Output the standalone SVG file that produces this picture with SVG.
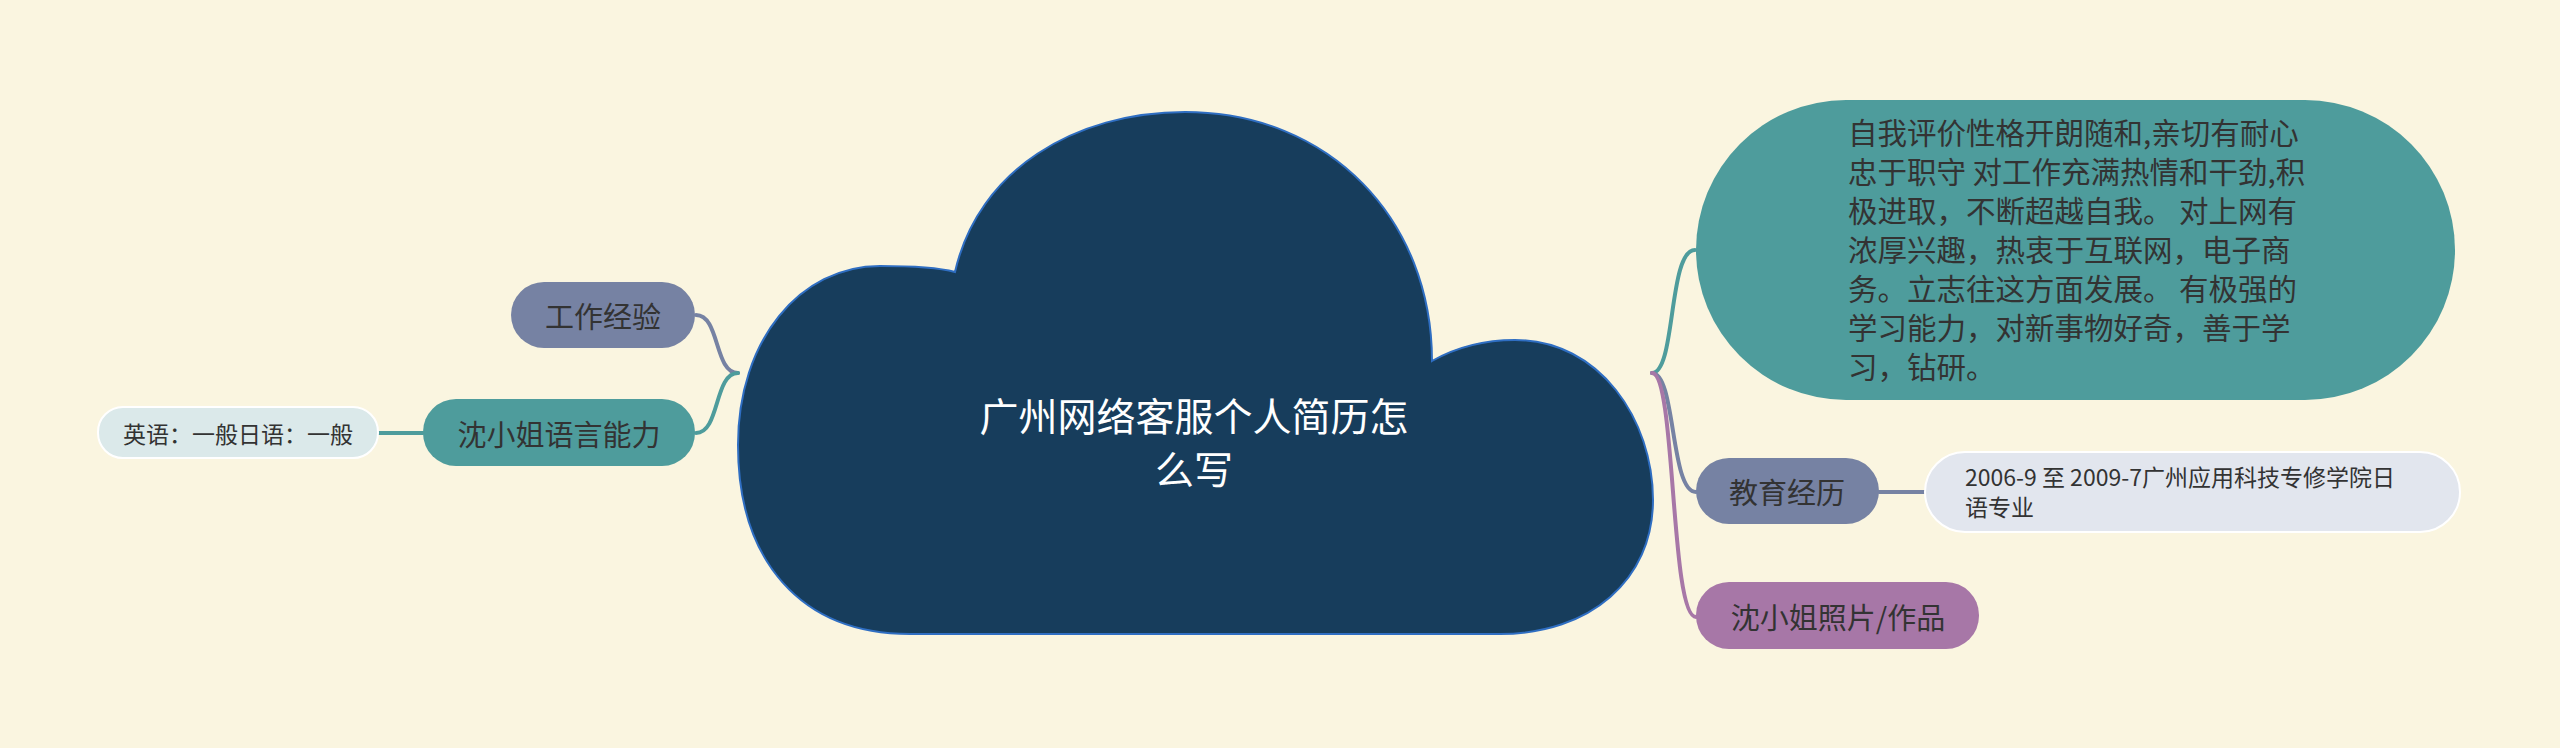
<svg xmlns="http://www.w3.org/2000/svg" width="2560" height="748" viewBox="0 0 2560 748">
<style>
.t{font-family:"Noto Sans CJK SC","Noto Sans",sans-serif;fill:#333333;}
.n29{font-size:29px;text-anchor:middle;dominant-baseline:central;}
.c{fill:none;stroke-linecap:round;}
</style>
<rect x="0" y="0" width="2560" height="748" fill="#faf5e0"/>
<g id="connectors">
<path class="c" d="M696 315 C720 315 714 373 738 373" stroke="#7682a3" stroke-width="4"/>
<path class="c" d="M696 433 C720 433 714 373 738 373" stroke="#4e9c9c" stroke-width="4"/>
<path class="c" d="M378 433 L423 433" stroke="#4e9c9c" stroke-width="4"/>
<path class="c" d="M1652 373 C1676 373 1668 250 1695 250" stroke="#4e9c9c" stroke-width="4"/>
<path class="c" d="M1652 373 C1676 373 1670 492 1696 492" stroke="#7682a3" stroke-width="4"/>
<path class="c" d="M1652 373 C1676 373 1670 617 1696 617" stroke="#a777a7" stroke-width="4"/>
<path class="c" d="M1879 492 L1925 492" stroke="#7682a3" stroke-width="4"/>
</g>
<g id="root">
<path d="M910 634 C800 634 738 560 738 445 C738 340 800 266 880 266 C920 266 940 268 955 272 C978 170 1075 112 1185 112 C1330 112 1432 220 1432 361 C1455 348 1480 340 1515 340 C1600 340 1653 420 1653 500 C1653 580 1590 634 1500 634 Z" fill="#173d5c" stroke="#2f6ec2" stroke-width="2"/>
<text class="t" font-size="39" style="fill:#ffffff" text-anchor="middle"><tspan x="1194" y="431">广州网络客服个人简历怎</tspan><tspan x="1194" y="484">么写</tspan></text>
</g>
<g id="n-work">
<rect x="511" y="282" width="184" height="66" rx="33" fill="#7682a3"/>
<text class="t n29" x="603" y="315">工作经验</text>
</g>
<g id="n-lang">
<rect x="423" y="399" width="272" height="67" rx="33" fill="#4e9c9c"/>
<text class="t n29" x="559" y="433">沈小姐语言能力</text>
</g>
<g id="n-lang-sub">
<rect x="98" y="407" width="280" height="51" rx="25" fill="#dbe9ea" stroke="#ffffff" stroke-width="2"/>
<text class="t" font-size="23" x="238" y="433" text-anchor="middle" dominant-baseline="central">英语：一般日语：一般</text>
</g>
<g id="n-self">
<rect x="1696" y="100" width="759" height="300" rx="150" fill="#4e9c9c"/>
<text class="t" font-size="29.5"><tspan x="1848" y="144">自我评价性格开朗随和,亲切有耐心</tspan><tspan x="1848" y="183">忠于职守 对工作充满热情和干劲,积</tspan><tspan x="1848" y="222">极进取，不断超越自我。 对上网有</tspan><tspan x="1848" y="261">浓厚兴趣，热衷于互联网，电子商</tspan><tspan x="1848" y="300">务。立志往这方面发展。 有极强的</tspan><tspan x="1848" y="339">学习能力，对新事物好奇，善于学</tspan><tspan x="1848" y="378">习，钻研。</tspan></text>
</g>
<g id="n-edu">
<rect x="1696" y="458" width="183" height="66" rx="33" fill="#7682a3"/>
<text class="t n29" x="1787" y="491">教育经历</text>
</g>
<g id="n-edu-sub">
<rect x="1925" y="452" width="535" height="80" rx="40" fill="#e2e6ee" stroke="#ffffff" stroke-width="2"/>
<text class="t" font-size="23"><tspan x="1965" y="486">2006-9 至 2009-7广州应用科技专修学院日</tspan><tspan x="1965" y="516">语专业</tspan></text>
</g>
<g id="n-photo">
<rect x="1696" y="582" width="283" height="67" rx="33" fill="#a777a7"/>
<text class="t n29" x="1838" y="616">沈小姐照片/作品</text>
</g>
</svg>
